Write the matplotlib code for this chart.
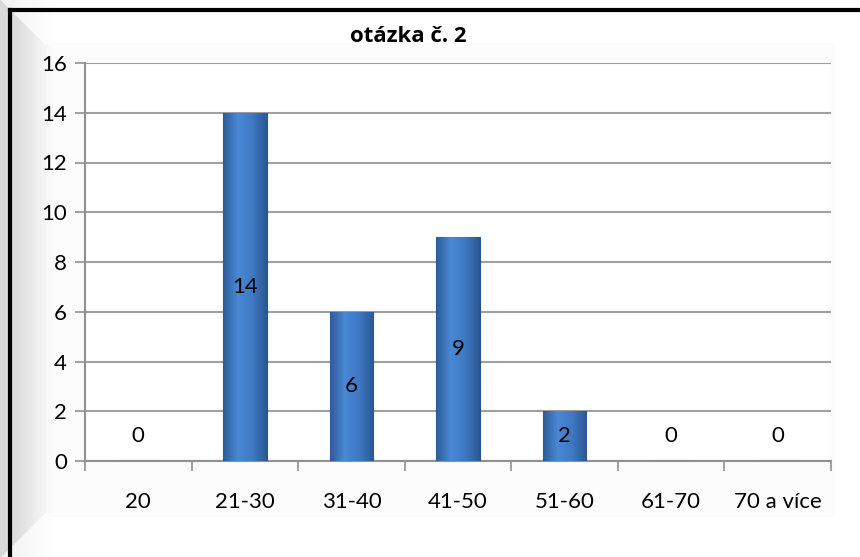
import numpy as np
import matplotlib
matplotlib.use("Agg")
import matplotlib.pyplot as plt
from matplotlib.colors import LinearSegmentedColormap
from matplotlib.lines import Line2D

categories = ["20", "21-30", "31-40", "41-50", "51-60", "61-70", "70 a více"]
values = [0, 14, 6, 9, 2, 0, 0]
yticks = [0, 2, 4, 6, 8, 10, 12, 14, 16]
title = "otázka č. 2"

plt.rcParams['font.family'] = ['Lato', 'DejaVu Sans']

W, H = 860, 557
fig = plt.figure(figsize=(W / 100, H / 100), dpi=100)
fig.patch.set_facecolor('white')

# background bevel (left shading, faint inner panel)
bg = fig.add_axes([0, 0, 1, 1], zorder=0)
bg.set_axis_off()
xs = np.arange(W)
ys = np.arange(H)
X, Y = np.meshgrid(xs, ys)
img = np.ones((H, W))
left = np.clip(1 - (X - 12) / 45.0, 0, 1) * 0.15
# diagonal bevel corners on left
tri_top = (Y < 45) & (X > Y)
tri_bot = (Y > H - 45) & (X > (H - Y))
left = np.where(tri_top | tri_bot, left * 0.3, left)
img = img - left
inner = (X > 45) & (X < 835) & (Y > 42) & (Y < H - 40)
img = np.where(inner, np.minimum(img, 0.985), img)
bg.imshow(img, cmap='gray', vmin=0, vmax=1, extent=[0, 1, 0, 1], aspect='auto', origin='upper')
bg.set_xlim(0, 1)
bg.set_ylim(0, 1)

# frame
fig.add_artist(Line2D([10 / W, 10 / W], [0, 1 - 10 / H], color='black', lw=3, transform=fig.transFigure))
fig.add_artist(Line2D([10 / W, 1], [1 - 10 / H, 1 - 10 / H], color='black', lw=3, transform=fig.transFigure))

ax = fig.add_axes([85 / W, 1 - 461 / H, 746 / W, (461 - 63) / H], zorder=2)
ax.set_facecolor('white')
x = np.arange(len(categories))
bars = ax.bar(x, values, width=0.41, color='#3c73bd', edgecolor='#2b5590', linewidth=0.8, zorder=3)

cmap = LinearSegmentedColormap.from_list('b', ['#2e5c98', '#4a88d4', '#3f79c4', '#2c5891'])
grad = np.linspace(0, 1, 100).reshape(1, -1)
for b in bars:
    if b.get_height() <= 0:
        continue
    x0, w, h = b.get_x(), b.get_width(), b.get_height()
    im = ax.imshow(grad, cmap=cmap, extent=[x0, x0 + w, 0, h], aspect='auto', zorder=3.5, origin='lower')
    im.set_clip_path(b)

for xi, v in zip(x, values):
    ypos = v / 2 if v > 0 else 1
    ax.text(xi, ypos, str(v), ha='center', va='center', fontsize=16, color='black', zorder=5)

ax.set_xlim(-0.5, len(categories) - 0.5)
ax.set_ylim(0, 16)
ax.set_yticks(yticks)
ax.set_yticklabels([str(t) for t in yticks], fontsize=16)
ax.yaxis.grid(True, color='#a0a0a0', lw=1.5, zorder=1)
ax.set_axisbelow(True)
ax.set_xticks(x)
ax.set_xticklabels(categories, fontsize=16)
ax.set_xticks(np.arange(-0.5, len(categories)), minor=True)
ax.tick_params(axis='x', which='major', length=0, pad=22)
ax.tick_params(axis='x', which='minor', length=7, color='#909090', width=1.2, direction='out')
ax.tick_params(axis='y', length=7, color='#909090', width=1.2, pad=6)
for s in ['top', 'right']:
    ax.spines[s].set_visible(False)
for s in ['left', 'bottom']:
    ax.spines[s].set_color('#909090')
    ax.spines[s].set_linewidth(1.5)

fig.text(408 / W, 1 - 36 / H, title, ha='center', va='center', fontsize=16,
         fontweight='bold', family=['Open Sans', 'DejaVu Sans'])

fig.savefig('out.png', dpi=100)
